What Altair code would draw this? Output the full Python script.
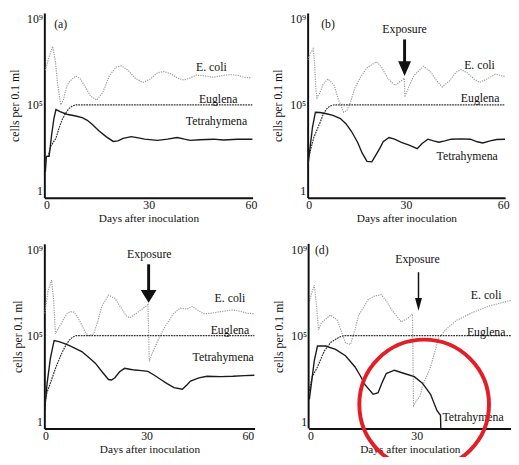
import altair as alt
import pandas as pd

FONT = "Liberation Serif"
INK = "#111111"
ECOLI_C = "#999999"
EUG_C = "#333333"
TET_C = "#1a1a1a"

# y positions are in "log-axis units": 0 -> 1, 5 -> 10^5, 10 -> 10^9 tick
# ---------------- panel (a)
a_ecoli_day = [-0.3, 0.5, 1.8, 2.6, 3.3, 4.2, 5.0, 6.0, 7.0, 8.6, 10.0, 11.5, 13.0, 14.8, 16.5, 18.5, 20.5, 22.0, 24.0, 26.0, 28.3, 30.5, 32.5, 34.5, 36.5, 38.5, 40.3, 42.0, 44.0, 46.0, 49.0, 51.5, 53.8, 56.0, 58.0, 60.0]
a_ecoli_val = [7.0, 7.6, 8.4, 7.6, 6.2, 5.0, 5.3, 6.1, 6.4, 6.67, 6.5, 6.0, 5.5, 5.28, 5.7, 6.7, 7.2, 7.26, 7.0, 6.55, 6.3, 6.5, 6.85, 6.94, 6.8, 6.55, 6.44, 6.55, 6.72, 6.7, 6.6, 6.7, 6.76, 6.72, 6.6, 6.57]
a_eug_day = [-0.3, 0.5, 1.3, 2.8, 3.8, 4.7, 5.6, 6.6, 7.6, 8.6, 60.5]
a_eug_val = [1.9, 2.0, 2.6, 3.05, 3.7, 4.17, 4.5, 4.78, 4.93, 5.0, 5.0]
a_tet_day = [-0.3, 0.0, 0.8, 1.5, 2.2, 2.8, 4.0, 6.0, 8.6, 10.5, 12.0, 13.5, 15.3, 17.5, 19.6, 21.0, 22.5, 24.9, 27.0, 28.8, 32.6, 35.5, 38.4, 40.5, 42.2, 45.0, 49.0, 52.0, 56.0, 60.5]
a_tet_val = [1.1, 2.0, 2.0, 3.2, 4.2, 4.72, 4.6, 4.45, 4.35, 4.25, 4.1, 3.85, 3.5, 3.15, 2.87, 2.9, 3.05, 3.15, 3.08, 3.0, 2.93, 3.0, 3.1, 3.0, 2.93, 2.97, 3.0, 2.95, 3.0, 3.0]
a_text = ["(a)", "E. coli", "Euglena", "Tetrahymena"]
a_text_day = [4.2, 48.4, 50.4, 49.9]
a_text_val = [9.72, 7.22, 5.33, 4.07]

# ---------------- panel (b)
b_ecoli_day = [-0.3, 0.6, 1.4, 1.8, 2.3, 2.6, 3.5, 4.5, 6.0, 7.9, 9.2, 10.8, 11.8, 13.0, 14.2, 16.0, 18.0, 20.9, 22.5, 24.5, 26.7, 28.6, 29.5, 29.7, 31.0, 32.5, 35.4, 37.5, 39.5, 41.2, 43.5, 45.5, 47.0, 49.0, 51.0, 52.7, 55.0, 57.6, 60.5]
b_ecoli_val = [7.6, 8.0, 8.25, 7.5, 5.8, 5.4, 5.7, 6.2, 6.5, 6.13, 5.3, 4.57, 4.66, 5.2, 5.95, 6.6, 7.15, 7.5, 7.2, 6.5, 6.13, 6.4, 6.55, 5.45, 6.1, 6.7, 7.24, 6.95, 6.4, 6.04, 6.4, 6.9, 7.05, 6.85, 6.5, 6.3, 6.5, 6.78, 6.65]
b_eug_day = [-0.3, 0.5, 1.6, 3.6, 4.5, 5.5, 6.5, 7.9, 60.6]
b_eug_val = [1.7, 2.3, 3.1, 4.0, 4.45, 4.75, 4.92, 5.0, 5.0]
b_tet_day = [-0.3, 0.5, 1.2, 2.1, 3.5, 5.5, 7.5, 9.8, 11.5, 13.2, 15.1, 16.5, 18.0, 19.5, 20.5, 21.9, 23.0, 24.8, 26.5, 28.6, 31.0, 33.5, 35.0, 36.8, 38.5, 40.2, 42.0, 44.0, 47.0, 49.9, 52.0, 53.7, 56.0, 58.0, 60.6]
b_tet_val = [1.3, 2.6, 3.7, 4.57, 4.55, 4.48, 4.38, 4.2, 3.9, 3.46, 2.82, 2.2, 1.71, 1.68, 2.0, 2.45, 2.85, 3.1, 3.0, 2.82, 2.65, 2.45, 2.75, 3.0, 2.9, 2.82, 2.9, 3.0, 3.02, 3.0, 2.85, 2.78, 2.9, 2.98, 3.0]
b_text = ["(b)", "Exposure", "E. coli", "Euglena", "Tetrahymena"]
b_text_day = [6.0, 29.6, 52.7, 52.9, 48.9]
b_text_val = [9.72, 9.41, 7.33, 5.4, 2.04]

# ---------------- panel (c)
c_ecoli_day = [-0.2, 0.8, 1.84, 2.4, 3.0, 3.6, 4.6, 5.5, 6.5, 7.5, 8.5, 9.5, 10.9, 12.0, 12.8, 14.3, 15.5, 16.7, 18.7, 20.6, 22.5, 24.0, 25.0, 27.0, 29.0, 30.4, 30.8, 31.5, 33.3, 34.8, 36.2, 38.0, 40.0, 42.0, 43.5, 45.0, 46.9, 49.0, 52.0, 55.6, 58.0, 60.0, 62.0]
c_ecoli_val = [6.3, 7.6, 8.23, 7.2, 5.1, 5.35, 5.66, 6.0, 6.3, 6.4, 6.36, 6.1, 5.57, 5.15, 5.0, 5.1, 5.8, 6.7, 7.36, 7.17, 6.6, 6.15, 6.04, 6.3, 6.6, 6.8, 3.5, 3.9, 4.7, 5.3, 5.75, 6.3, 6.6, 6.55, 6.7, 6.5, 6.28, 6.3, 6.4, 6.5, 6.4, 6.3, 6.28]
c_eug_day = [-0.2, 0.5, 1.7, 3.0, 4.6, 5.8, 7.0, 8.0, 9.0, 62.0]
c_eug_val = [1.0, 1.7, 2.36, 3.1, 3.87, 4.35, 4.72, 4.9, 5.0, 5.0]
c_tet_day = [-0.2, 0.5, 1.5, 2.6, 4.0, 5.5, 7.0, 9.0, 10.9, 12.8, 14.8, 16.8, 18.7, 19.6, 20.6, 22.0, 23.5, 25.0, 26.5, 28.5, 30.4, 32.3, 34.2, 36.2, 38.1, 40.6, 42.0, 43.0, 45.5, 47.9, 52.0, 55.6, 59.0, 62.0]
c_tet_val = [0.7, 2.2, 3.7, 4.72, 4.65, 4.55, 4.43, 4.25, 4.06, 3.75, 3.4, 2.9, 2.45, 2.42, 2.55, 2.9, 3.1, 3.05, 3.0, 2.97, 2.92, 2.7, 2.45, 2.2, 1.98, 1.89, 2.15, 2.36, 2.55, 2.64, 2.62, 2.64, 2.68, 2.7]
c_text = ["Exposure", "E. coli", "Euglena", "Tetrahymena"]
c_text_day = [30.8, 54.7, 54.7, 52.7]
c_text_val = [9.75, 7.17, 5.34, 3.77]

# ---------------- panel (d)
d_ecoli_day = [-0.3, 0.4, 1.1, 1.7, 2.3, 3.0, 3.9, 5.7, 7.6, 8.8, 9.9, 11.3, 12.5, 13.6, 16.3, 18.0, 20.0, 21.5, 22.8, 25.6, 27.4, 28.8, 29.1, 30.2, 31.0, 31.6, 33.9, 36.2, 38.5, 41.3, 45.9, 50.5, 57.4, 62.0]
d_ecoli_val = [7.0, 7.5, 7.94, 6.8, 5.33, 5.7, 5.9, 6.2, 5.9, 5.2, 4.58, 4.49, 5.3, 6.17, 7.1, 7.3, 7.38, 7.0, 6.54, 5.8, 6.0, 6.26, 0.93, 1.3, 1.5, 2.06, 3.18, 4.86, 5.42, 5.9, 6.36, 6.73, 7.1, 7.25]
d_eug_day = [-0.3, 0.5, 2.0, 3.9, 5.7, 8.0, 9.4, 62.0]
d_eug_val = [1.8, 2.6, 3.18, 4.1, 4.6, 4.9, 5.0, 5.0]
d_tet_day = [-0.3, 0.4, 1.1, 2.0, 4.3, 7.1, 9.9, 12.6, 14.0, 15.4, 17.7, 19.1, 20.3, 21.4, 23.7, 26.5, 29.3, 31.6, 33.9, 35.7, 36.7, 36.8]
d_tet_val = [1.3, 2.4, 3.55, 4.4, 4.4, 4.2, 3.83, 3.18, 2.7, 2.15, 1.59, 1.68, 2.3, 2.8, 2.99, 2.8, 2.62, 2.24, 1.59, 0.65, 0.37, -0.4]
d_text = ["(d)", "Exposure", "E. coli", "Euglena", "Tetrahymena"]
d_text_day = [3.2, 30.2, 49.6, 49.6, 45.9]
d_text_val = [10.0, 9.44, 7.38, 5.18, 0.24]

# exposure arrows: panel, day, shaft top, tip
arrow_panel = ["b", "c", "d"]
arrow_day = [29.6, 30.6, 30.5]
arrow_top = [8.8, 9.15, 8.69]
arrow_tip = [6.68, 6.92, 6.45]

# red highlight circle on panel (d)
circle_day = [32.1]
circle_val = [1.0]

Y_TICKS = [0, 5, 10]
Y_LOW, Y_HIGH = -0.4, 10.34
PX_PER_UNIT = 17.5
PLOT_H = round((Y_HIGH - Y_LOW) * PX_PER_UNIT)  # 188


def df(days, vals):
    return pd.DataFrame({"day": days, "val": vals})


def panel(ec, eu, te, texts, xdom, width, x_ticks=(0, 30, 60), arrow=None,
          circle=None, ytitle_pad=5, extra_bottom=0):
    height = PLOT_H + extra_bottom
    ylow = Y_LOW - extra_bottom / PX_PER_UNIT
    x = alt.X("day:Q", scale=alt.Scale(domain=xdom, nice=False, zero=False),
              axis=alt.Axis(values=list(x_ticks), title="Days after inoculation",
                            labelFlush=False, offset=-extra_bottom))
    yaxis = dict(values=Y_TICKS, title="cells per 0.1 ml", titlePadding=ytitle_pad,
                 labelExpr="datum.value == 10 ? '10\u2079' : datum.value == 5 ? '10\u2075' : '1'")
    if extra_bottom:
        yaxis.update(domain=False, titleY=PLOT_H / 2)
    y = alt.Y("val:Q", scale=alt.Scale(domain=[ylow, Y_HIGH], nice=False, zero=False),
              axis=alt.Axis(**yaxis))
    layers = [
        alt.Chart(df(*ec)).mark_line(color=ECOLI_C, strokeWidth=1.2, clip=True,
                                      strokeDash=[1.2, 1.2]).encode(x=x, y=y),
        alt.Chart(df(*eu)).mark_line(color=EUG_C, strokeWidth=1.2, clip=True,
                                      strokeDash=[1.8, 0.9]).encode(x=x, y=y),
        alt.Chart(df(*te)).mark_line(color=TET_C, strokeWidth=1.4, clip=True).encode(x=x, y=y),
    ]
    if extra_bottom:
        # y-axis line stopping at the x-axis
        layers.append(alt.Chart(df([xdom[0]], [Y_LOW])).mark_rule(color=INK, strokeWidth=2)
                      .encode(x=x, y=y, y2=alt.datum(Y_HIGH)))
    tdf = pd.DataFrame({"label": texts[0], "day": texts[1], "val": texts[2]})
    layers.append(
        alt.Chart(tdf).mark_text(font=FONT, fontSize=12, color=INK,
                                 align="center", baseline="middle")
        .encode(x=x, y=y, text="label:N"))
    if arrow is not None:
        day, top, tip, sw, shape, size = arrow
        adf = pd.DataFrame({"day": [day], "val": [top], "val2": [tip + 0.4]})
        hdf = pd.DataFrame({"day": [day], "val": [tip]})
        layers.append(alt.Chart(adf).mark_rule(color=INK, strokeWidth=sw)
                      .encode(x=x, y=y, y2="val2:Q"))
        layers.append(alt.Chart(hdf).mark_point(shape=shape, size=size,
                                                filled=True, color=INK, opacity=1)
                      .encode(x=x, y=y))
    if circle is not None:
        layers.append(alt.Chart(df(*circle)).mark_point(
            shape="circle", size=17424, filled=False, strokeWidth=4, clip=True,
            color="#e41e26", opacity=1).encode(x=x, y=y))
    return alt.layer(*layers).properties(width=width, height=height)


def arrow_of(p, sw, shape, size):
    i = arrow_panel.index(p)
    return (arrow_day[i], arrow_top[i], arrow_tip[i], sw, shape, size)


pa = panel((a_ecoli_day, a_ecoli_val), (a_eug_day, a_eug_val), (a_tet_day, a_tet_val),
           (a_text, a_text_day, a_text_val), [-0.6, 60.5], 212)
pb = panel((b_ecoli_day, b_ecoli_val), (b_eug_day, b_eug_val), (b_tet_day, b_tet_val),
           (b_text, b_text_day, b_text_val), [-0.3, 60.6], 201,
           arrow=arrow_of("b", 3, "M-0.87,-2L0.87,-2L0,0Z", 225))
pc = panel((c_ecoli_day, c_ecoli_val), (c_eug_day, c_eug_val), (c_tet_day, c_tet_val),
           (c_text, c_text_day, c_text_val), [-0.3, 62.0], 214,
           arrow=arrow_of("c", 3, "M-1.07,-1.73L1.07,-1.73L0,0Z", 225), ytitle_pad=2)
pd_ = panel((d_ecoli_day, d_ecoli_val), (d_eug_day, d_eug_val), (d_tet_day, d_tet_val),
            (d_text, d_text_day, d_text_val), [-0.5, 56.6], 206, x_ticks=(0, 30),
            arrow=arrow_of("d", 1.5, "M-0.54,-2L0.54,-2L0,0Z", 169),
            circle=(circle_day, circle_val), extra_bottom=29)

top = alt.hconcat(pa, pb, spacing=14)
bottom = alt.hconcat(pc, pd_, spacing=18)
chart = (
    alt.vconcat(top, bottom, spacing=19)
    .properties(padding=0)
    .configure_view(stroke=None)
    .configure_axis(labelFont=FONT, titleFont=FONT, labelFontSize=12,
                    titleFontSize=12, titleFontWeight="normal", labelColor=INK,
                    titleColor=INK, domainColor=INK, domainWidth=2, ticks=False,
                    grid=False)
    .configure_axisX(labelPadding=2, titlePadding=2, titleFontSize=11.5)
    .configure_axisY(labelPadding=2)
)

chart.save("out.html", embed_options={"renderer": "svg", "actions": False})
